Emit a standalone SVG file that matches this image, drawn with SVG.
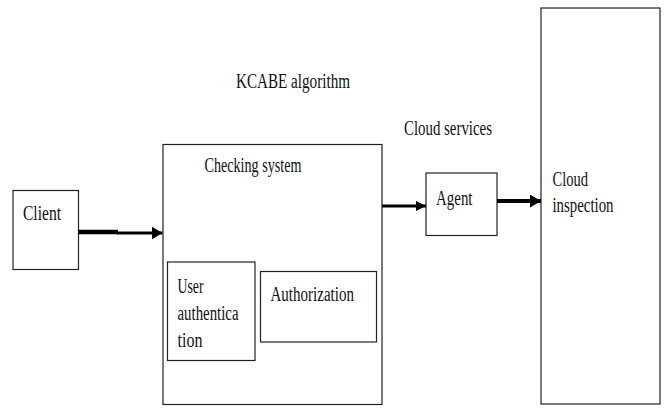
<svg xmlns="http://www.w3.org/2000/svg" width="664" height="416" viewBox="0 0 664 416">
<defs>
<style>
.box{fill:#fff;stroke:#222;stroke-width:1.2}
.t{font-family:"Liberation Serif","Times New Roman",serif;font-size:20.5px;fill:#111}
.ln{stroke:#000;fill:none}
</style>
<marker id="ah" viewBox="0 0 10 10" refX="10" refY="5" markerWidth="10" markerHeight="10" markerUnits="userSpaceOnUse" orient="auto"><path d="M0,0 L10,5 L0,10 z" fill="#000"/></marker>
<marker id="ah2" viewBox="0 0 10 10" refX="10" refY="5" markerWidth="11" markerHeight="13" markerUnits="userSpaceOnUse" orient="auto" preserveAspectRatio="none"><path d="M0,0 L10,5 L0,10 z" fill="#000"/></marker>
</defs>
<rect width="664" height="416" fill="#fff"/>
<text class="t" x="236" y="88" textLength="114" lengthAdjust="spacingAndGlyphs">KCABE algorithm</text>
<text class="t" x="404" y="135" textLength="88" lengthAdjust="spacingAndGlyphs">Cloud services</text>
<g id="client">
<rect class="box" x="13" y="190.5" width="65.5" height="79"/>
<text class="t" x="23" y="220" textLength="38" lengthAdjust="spacingAndGlyphs">Client</text>
</g>
<g id="checking">
<rect class="box" x="163" y="144.5" width="219" height="260"/>
<text class="t" x="204.5" y="171.5" textLength="97" lengthAdjust="spacingAndGlyphs">Checking system</text>
</g>
<g id="userauth">
<rect class="box" x="167.5" y="262" width="87.5" height="98.5"/>
<text class="t" x="177.5" y="293" textLength="26" lengthAdjust="spacingAndGlyphs">User</text>
<text class="t" x="177.5" y="320" textLength="61" lengthAdjust="spacingAndGlyphs">authentica</text>
<text class="t" x="177.5" y="347" textLength="25" lengthAdjust="spacingAndGlyphs">tion</text>
</g>
<g id="authorization">
<rect class="box" x="260.5" y="271.5" width="116" height="70.5"/>
<text class="t" x="270.5" y="300.5" textLength="83.5" lengthAdjust="spacingAndGlyphs">Authorization</text>
</g>
<g id="agent">
<rect class="box" x="426" y="173" width="71" height="62.5"/>
<text class="t" x="436" y="204.5" textLength="36.5" lengthAdjust="spacingAndGlyphs">Agent</text>
</g>
<g id="cloudinspection">
<rect class="box" x="541" y="8" width="119" height="396"/>
<text class="t" x="552.5" y="186" textLength="35.5" lengthAdjust="spacingAndGlyphs">Cloud</text>
<text class="t" x="552.5" y="212" textLength="61" lengthAdjust="spacingAndGlyphs">inspection</text>
</g>
<g id="connectors">
<line class="ln" x1="78.5" y1="232" x2="118" y2="232" stroke-width="4.5"/>
<line class="ln" x1="117" y1="233" x2="162.5" y2="233" stroke-width="3" marker-end="url(#ah2)"/>
<line class="ln" x1="382" y1="206" x2="426" y2="206" stroke-width="3" marker-end="url(#ah)"/>
<line class="ln" x1="497" y1="201" x2="541" y2="201" stroke-width="4" marker-end="url(#ah2)"/>
</g>
</svg>
